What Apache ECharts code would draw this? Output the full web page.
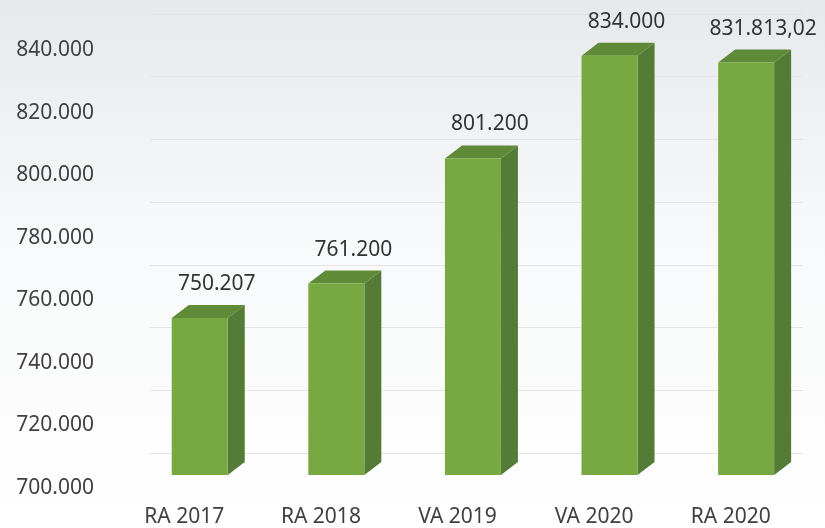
<!DOCTYPE html>
<html>
<head>
<meta charset="utf-8">
<script src="https://cdn.jsdelivr.net/npm/echarts@6/dist/echarts.min.js"></script>
<style>
html, body { margin: 0; padding: 0; }
#chart { width: 825px; height: 528px; }
</style>
</head>
<body>
<div id="chart"></div>
<script>
var categories = ['RA 2017', 'RA 2018', 'VA 2019', 'VA 2020', 'RA 2020'];
var values = [750207, 761200, 801200, 834000, 831813.02];
var yMin = 700000;
var yMax = 840000;
var yStep = 20000;

// german style number: 831.813,02
function fmt(v) {
	var parts = Number(v).toFixed(2).split('.');
	var whole = parts[0].replace(/\B(?=(\d{3})+(?!\d))/g, '.');
	return parts[1] === '00' ? whole : whole + ',' + parts[1];
}

var FONT = '"Noto Sans", "Open Sans", sans-serif';
var DX = 17, DY = 13, LIFT = 13;

function renderBar(params, api) {
	var idx = api.value(0);
	var val = api.value(1);
	var top = api.coord([idx, val]);
	var base = api.coord([idx, yMin]);
	var band = api.size([1, 0])[0];
	var w = band * 0.41;
	var x0 = top[0] - band * 0.092;
	var x1 = x0 + w;
	var yt = top[1] - LIFT;
	var yb = base[1] - LIFT;
	return {
		type: 'group',
		children: [{
			type: 'polygon',
			shape: { points: [[x1, yt], [x1 + DX, yt - DY], [x1 + DX, yb - DY], [x1, yb]] },
			style: { fill: '#557c36' }
		}, {
			type: 'polygon',
			shape: { points: [[x0, yt], [x0 + DX, yt - DY], [x1 + DX, yt - DY], [x1, yt]] },
			style: { fill: '#5f8a38' }
		}, {
			type: 'rect',
			shape: { x: x0, y: yt, width: w, height: yb - yt },
			style: { fill: '#78a841' }
		}, {
			type: 'text',
			style: {
				text: fmt(val),
				x: x0 + w / 2 + DX,
				y: yt - DY - 21,
				align: 'center',
				verticalAlign: 'middle',
				fill: '#333333',
				fontSize: 21,
				fontFamily: FONT
			}
		}]
	};
}

var myChart = echarts.init(document.getElementById('chart'));

myChart.setOption({
	backgroundColor: {
		type: 'linear', x: 0, y: 0, x2: 0, y2: 1,
		colorStops: [
			{ offset: 0, color: '#e6e9ec' },
			{ offset: 0.45, color: '#f8f9fa' },
			{ offset: 1, color: '#ffffff' }
		]
	},
	animation: false,
	grid: [
		{ left: 116, right: 26, top: 50, bottom: 37 },
		{ left: 150, right: 22, top: 14, bottom: 75 }
	],
	xAxis: [{
		type: 'category',
		gridIndex: 0,
		data: categories,
		axisLine: { show: false },
		axisTick: { show: false },
		axisLabel: { color: '#404040', fontSize: 21, fontFamily: FONT, margin: 19 }
	}, {
		type: 'category',
		gridIndex: 1,
		data: categories,
		show: false
	}],
	yAxis: [{
		type: 'value',
		gridIndex: 0,
		min: yMin,
		max: yMax,
		interval: yStep,
		axisLine: { show: false },
		axisTick: { show: false },
		splitLine: { show: false },
		axisLabel: { color: '#404040', fontSize: 21, fontFamily: FONT, margin: 22, formatter: fmt }
	}, {
		type: 'value',
		gridIndex: 1,
		min: yMin,
		max: yMax,
		interval: yStep,
		axisLine: { show: false },
		axisTick: { show: false },
		axisLabel: { show: false },
		splitLine: { lineStyle: { color: '#e4e4e4', width: 1 } }
	}],
	series: [{
		type: 'custom',
		xAxisIndex: 0,
		yAxisIndex: 0,
		renderItem: renderBar,
		data: values.map(function (v, i) { return [i, v]; })
	}]
});
</script>
</body>
</html>
